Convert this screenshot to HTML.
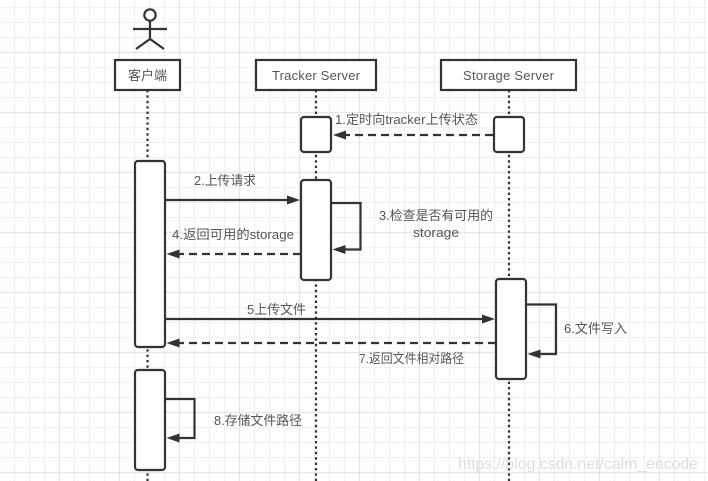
<!DOCTYPE html>
<html>
<head>
<meta charset="utf-8">
<style>
html,body{margin:0;padding:0;background:#fff;}
svg{display:block;}
text{font-family:"Liberation Sans","Noto Sans CJK SC",sans-serif;font-size:13px;fill:#555;}
.box{fill:#fff;stroke:#333;stroke-width:2.2;}
.life{fill:none;stroke:#333;stroke-width:2.2;stroke-dasharray:2.4 3;}
.solid{fill:none;stroke:#333;stroke-width:2.2;}
.dash{fill:none;stroke:#333;stroke-width:2.2;stroke-dasharray:8 5;}
.head{fill:#333;stroke:none;}
</style>
</head>
<body>
<svg width="708" height="481" viewBox="0 0 708 481" xmlns="http://www.w3.org/2000/svg">
<defs>
<pattern id="minor" width="15" height="15" patternUnits="userSpaceOnUse" x="7" y="0">
<path d="M7.5 0V15M0 7.5H15" stroke="#f1f1f1" stroke-width="1.3" fill="none"/>
</pattern>
<pattern id="major" width="60" height="60" patternUnits="userSpaceOnUse" x="29.5" y="22.5">
<path d="M30 0V60M0 30H60" stroke="#e6e6e6" stroke-width="1.3" fill="none"/>
</pattern>
</defs>
<rect width="708" height="481" fill="#fff"/>
<rect width="708" height="481" fill="url(#minor)"/>
<rect width="708" height="481" fill="url(#major)"/>

<!-- lifelines -->
<path class="life" d="M147.5 90V481"/>
<path class="life" d="M316 90V481"/>
<path class="life" d="M509 90V481"/>

<!-- actor -->
<circle cx="150" cy="15" r="5.7" fill="#fff" stroke="#333" stroke-width="2.2"/>
<path class="solid" d="M150 21V39M133 29H167M136 49L150 39L164 49"/>

<!-- headers -->
<rect class="box" x="115" y="60" width="65" height="30"/>
<rect class="box" x="256" y="60" width="120" height="30"/>
<rect class="box" x="441" y="60" width="135" height="30"/>
<text x="147.5" y="80" text-anchor="middle" textLength="39" lengthAdjust="spacingAndGlyphs">客户端</text>
<text x="272" y="80" textLength="88" lengthAdjust="spacing">Tracker Server</text>
<text x="463" y="80" textLength="91" lengthAdjust="spacing">Storage Server</text>

<!-- activations -->
<rect class="box" x="301" y="117" width="30" height="35" rx="3"/>
<rect class="box" x="494" y="117" width="30" height="35" rx="3"/>
<rect class="box" x="135" y="161" width="30" height="186" rx="3"/>
<rect class="box" x="301" y="180" width="30" height="100" rx="3"/>
<rect class="box" x="496" y="279" width="30" height="100" rx="3"/>
<rect class="box" x="135" y="370" width="30" height="100" rx="3"/>

<!-- 1 -->
<path class="dash" d="M493 135H345"/>
<path class="head" d="M333 135L346 130.5V139.5Z"/>
<!-- 2 -->
<path class="solid" d="M165 200H288"/>
<path class="head" d="M300 200L287 195.5V204.5Z"/>
<!-- 3 -->
<path class="solid" d="M331 203H360.5V249.5H344"/>
<path class="head" d="M332.5 249.5L345.5 245V254Z"/>
<!-- 4 -->
<path class="dash" d="M301 254H179"/>
<path class="head" d="M166.5 254L179.5 249.5V258.5Z"/>
<!-- 5 -->
<path class="solid" d="M165 319H483"/>
<path class="head" d="M495 319L482 314.5V323.5Z"/>
<!-- 6 -->
<path class="solid" d="M526 304.5H556V354H539"/>
<path class="head" d="M527.5 354L540.5 349.5V358.5Z"/>
<!-- 7 -->
<path class="dash" d="M496 343H179"/>
<path class="head" d="M166.5 343L179.5 338.5V347.5Z"/>
<!-- 8 -->
<path class="solid" d="M165 399H194.5V438H178"/>
<path class="head" d="M166.5 438L179.5 433.5V442.5Z"/>

<!-- labels -->
<text x="335" y="124" textLength="143" lengthAdjust="spacingAndGlyphs">1.定时向tracker上传状态</text>
<text x="194" y="185" textLength="62" lengthAdjust="spacingAndGlyphs">2.上传请求</text>
<text x="379" y="220" textLength="114" lengthAdjust="spacingAndGlyphs">3.检查是否有可用的</text>
<text x="413" y="237" textLength="46" lengthAdjust="spacingAndGlyphs">storage</text>
<text x="172" y="239" textLength="122" lengthAdjust="spacingAndGlyphs">4.返回可用的storage</text>
<text x="247" y="314" textLength="59" lengthAdjust="spacingAndGlyphs">5上传文件</text>
<text x="564" y="333" textLength="63" lengthAdjust="spacingAndGlyphs">6.文件写入</text>
<text x="359" y="363" textLength="105" lengthAdjust="spacingAndGlyphs">7.返回文件相对路径</text>
<text x="214" y="425" textLength="88" lengthAdjust="spacingAndGlyphs">8.存储文件路径</text>

<!-- watermark -->
<text x="458" y="469" textLength="240" lengthAdjust="spacingAndGlyphs" style="font-size:16px;fill:#dedede;">https://blog.csdn.net/calm_encode</text>
</svg>
</body>
</html>
